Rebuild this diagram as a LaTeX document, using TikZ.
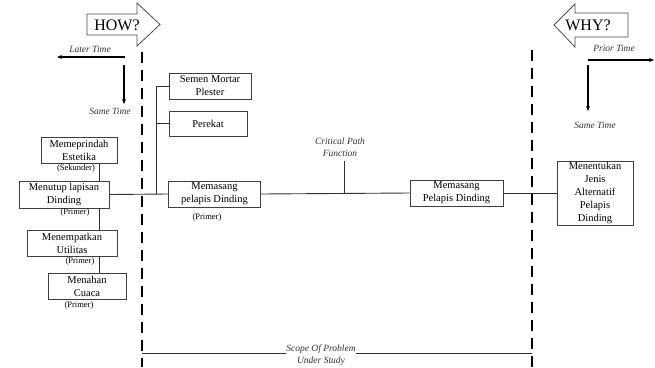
\documentclass[tikz,border=0pt]{standalone}
\usepackage{fontspec}
\setmainfont{Liberation Serif}
\usetikzlibrary{arrows.meta}
\begin{document}
\begin{tikzpicture}[x=1pt,y=-1pt,
  box/.style={draw=black!75, line width=0.8pt, inner sep=0pt, align=center,
    font=\fontsize{10.5}{13}\selectfont},
  tag/.style={inner sep=0pt, font=\fontsize{8.5}{10}\selectfont},
  note/.style={inner sep=0pt, align=center, text=black!80,
    font=\itshape\fontsize{9.5}{12}\selectfont},
  link/.style={draw=black!80, line width=0.9pt},
  timeline/.style={draw=black, line width=1.5pt, -{Stealth[length=5pt,width=4pt]}},
  bigarrow/.style={draw=black!70, line width=0.8pt, fill=white},
  scope/.style={draw=black, line width=2.4pt, dash pattern=on 11pt off 7pt},
]
\useasboundingbox (0,0) rectangle (655,367);

% FAST direction arrows
\draw[bigarrow] (87,14) -- (137,14) -- (137,3) -- (160,24.5) -- (137,46) -- (137,35) -- (87,35) -- cycle;
\node[inner sep=0pt, font=\fontsize{16}{16}\selectfont] (how) at (117,25) {HOW?};
\draw[bigarrow] (554,25) -- (575,4) -- (575,13) -- (628,13) -- (628,37) -- (575,37) -- (575,47) -- cycle;
\node[inner sep=0pt, font=\fontsize{16}{16}\selectfont] (why) at (588,25) {WHY?};

% time directions
\coordinate (lt0) at (125,57); \coordinate (lt1) at (57,57);
\draw[timeline] (lt0) -- (lt1);
\node[note] (later) at (90,49) {Later Time};
\coordinate (st0) at (124,65); \coordinate (st1) at (124,104);
\draw[timeline] (st0) -- (st1);
\node[note] (sameL) at (110,111) {Same Time};
\coordinate (pt0) at (588,60); \coordinate (pt1) at (654,60);
\draw[timeline] (pt0) -- (pt1);
\node[note] (prior) at (614,48) {Prior Time};
\coordinate (sr0) at (588,65); \coordinate (sr1) at (588,111);
\draw[timeline] (sr0) -- (sr1);
\node[note] (sameR) at (595,125) {Same Time};

% scope of the problem
\coordinate (dl0) at (142,52); \coordinate (dl1) at (142,367);
\coordinate (dr0) at (532,50); \coordinate (dr1) at (532,367);
\draw[scope] (dl0) -- (dl1);
\draw[scope] (dr0) -- (dr1);
\node[note] (scope) at (321,355) {Scope Of Problem\\Under Study};
\coordinate (sb0) at (142,353); \coordinate (sb1) at (532,353);
\draw[link] (sb0) -- (scope.west |- sb0);
\draw[link] (scope.east |- sb1) -- (sb1);

% functions
\node[box, minimum width=82pt, minimum height=26pt] (semen) at (210,86) {Semen Mortar\\Plester};
\node[box, minimum width=78pt, minimum height=25pt] (perekat) at (208,123.5) {Perekat};
\node[box, minimum width=76pt, minimum height=26pt] (estetika) at (79,150) {Memeprindah\\Estetika};
\node[box, minimum width=90pt, minimum height=27pt] (menutup) at (64,194.5) {Menutup lapisan\\Dinding};
\node[box, minimum width=92pt, minimum height=26pt] (pasang1) at (214.5,194) {Memasang\\pelapis Dinding};
\node[box, minimum width=93pt, minimum height=26pt] (pasang2) at (456.5,193) {Memasang\\Pelapis Dinding};
\node[box, minimum width=76pt, minimum height=64pt] (tentukan) at (595,193) {Menentukan\\Jenis\\Alternatif\\Pelapis\\Dinding};
\node[box, minimum width=90pt, minimum height=26pt] (utilitas) at (72,243) {Menempatkan\\Utilitas};
\node[box, minimum width=78pt, minimum height=26pt] (cuaca) at (87,286) {Menahan\\Cuaca};

\node[tag] (t1) at (76,168) {(Sekunder)};
\node[tag] (t2) at (75,212) {(Primer)};
\node[tag] (t3) at (207,217) {(Primer)};
\node[tag] (t4) at (80,261) {(Primer)};
\node[tag] (t5) at (79,305) {(Primer)};

% critical path
\draw[link] (menutup.east) -- (pasang1.west);
\draw[link] (pasang1.east) -- (pasang2.west);
\draw[link] (pasang2.east) -- (tentukan.west);
\coordinate (br) at (156,194);
\draw[link] (br) -- (br |- semen.west) -- (semen.west);
\draw[link] (br |- perekat.west) -- (perekat.west);
\node[note] (cpf) at (340,147) {Critical Path\\Function};
\coordinate (cp) at (344,161);
\draw[link] (cp) -- (cp |- pasang2.west);

% secondary function chain
\coordinate (vx) at (99,0);
\draw[link] (estetika.south -| vx) -- (menutup.north -| vx);
\draw[link] (menutup.south -| vx) -- (utilitas.north -| vx);
\draw[link] (utilitas.south -| vx) -- (cuaca.north -| vx);
\end{tikzpicture}
\end{document}
